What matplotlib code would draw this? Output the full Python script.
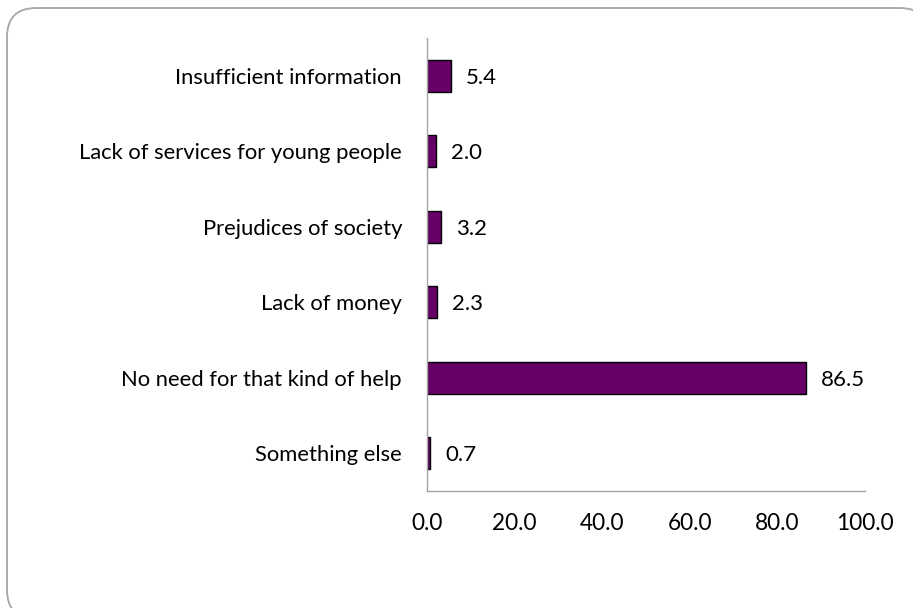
import matplotlib
matplotlib.use("Agg")
import matplotlib.pyplot as plt
from matplotlib.patches import FancyBboxPatch

categories = [
    "Insufficient information",
    "Lack of services for young people",
    "Prejudices of society",
    "Lack of money",
    "No need for that kind of help",
    "Something else",
]
values = [5.4, 2.0, 3.2, 2.3, 86.5, 0.7]
x_ticks = [0, 20, 40, 60, 80, 100]

plt.rcParams["font.family"] = ["Lato", "DejaVu Sans"]

W, H = 913, 608
fig = plt.figure(figsize=(W / 100, H / 100), dpi=100)

# rounded frame around the chart, drawn underneath the axes
left_px, top_px, right_px, bottom_px = 7, 8, 929, 619
frame = FancyBboxPatch(
    (left_px / W, (H - bottom_px) / H), (right_px - left_px) / W, (bottom_px - top_px) / H,
    boxstyle="round,pad=0,rounding_size=0.032",
    transform=fig.transFigure, facecolor="white", edgecolor="#a6a6a6",
    linewidth=1.3, mutation_aspect=W / H, zorder=-1, clip_on=False,
)
fig.patches.append(frame)

ax = fig.add_axes([427 / W, (H - 491) / H, (865 - 427) / W, (491 - 38) / H])
ax.set_facecolor("none")
ax.set_zorder(1)

y = list(range(len(categories)))
bars = ax.barh(y, values, height=0.42, color="#660066", edgecolor="black", linewidth=1.0)

for yi, v in zip(y, values):
    ax.annotate(f"{v:.1f}", xy=(v, yi), xytext=(11, 0), textcoords="offset points",
                va="center_baseline", ha="left", fontsize=16, color="black")

ax.set_xlim(0, 100)
ax.set_ylim(len(categories) - 0.5, -0.5)
ax.set_yticks(y)
ax.set_yticklabels(categories, fontsize=15.8)
ax.set_xticks(x_ticks)
ax.set_xticklabels([f"{t:.1f}" for t in x_ticks], fontsize=16.3)
ax.tick_params(axis="y", length=0, pad=18)
ax.tick_params(axis="x", length=0, pad=16)

for side in ["top", "right"]:
    ax.spines[side].set_visible(False)
for side in ["left", "bottom"]:
    ax.spines[side].set_color("#a6a6a6")
    ax.spines[side].set_linewidth(1.0)

fig.savefig("out.png", dpi=100)
